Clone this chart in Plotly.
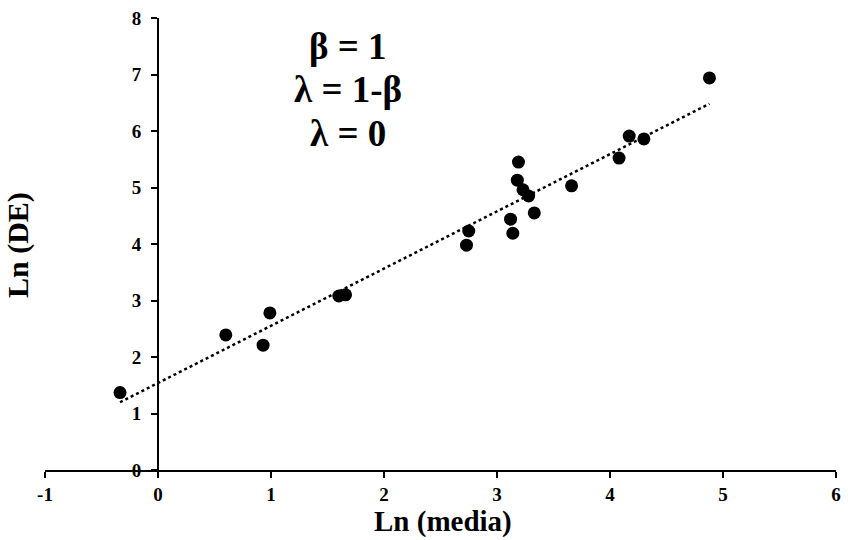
import numpy as np
import plotly.graph_objects as go

ln_media = [-0.336, 0.60, 0.93, 0.99, 1.60, 1.66, 2.73, 2.75, 3.12, 3.14,
            3.18, 3.19, 3.23, 3.28, 3.33, 3.66, 4.08, 4.17, 4.30, 4.88]
ln_de = [1.37, 2.39, 2.21, 2.78, 3.08, 3.10, 3.98, 4.23, 4.44, 4.19,
         5.13, 5.45, 4.96, 4.85, 4.55, 5.03, 5.52, 5.91, 5.86, 6.94]
x_ticks = [-1, 0, 1, 2, 3, 4, 5, 6]
x_tick_labels = ["-1", "0", "1", "2", "3", "4", "5", "6"]
y_ticks = [0, 1, 2, 3, 4, 5, 6, 7, 8]
y_tick_labels = ["0", "1", "2", "3", "4", "5", "6", "7", "8"]
note_lines = ["β = 1", "λ = 1-β", "λ = 0"]
note_y = [7.49, 6.73, 5.96]

FONT = "Liberation Serif"
W, H = 848, 540
L, R, T, B = 45, 12, 18, 70
PW, PH = W - L - R, H - T - B

slope, intercept = np.polyfit(ln_media, ln_de, 1)
tx = np.array([min(ln_media), max(ln_media)])
ty = slope * tx + intercept

fig = go.Figure()
fig.add_trace(go.Scatter(x=tx, y=ty, mode="lines",
                         line=dict(color="black", width=2.5, dash="dot"),
                         showlegend=False, hoverinfo="skip"))
fig.add_trace(go.Scatter(x=ln_media, y=ln_de, mode="markers",
                         marker=dict(color="black", size=13),
                         showlegend=False))

xr = [-1, 6]
tickfont = dict(family=FONT, size=19, color="black")
fig.update_layout(
    width=W, height=H,
    margin=dict(l=L, r=R, t=T, b=B, autoexpand=False),
    paper_bgcolor="white", plot_bgcolor="white",
    font=dict(family=FONT, color="black"),
    xaxis=dict(range=xr, tickvals=x_ticks,
               ticktext=[f"<b>{t}</b>" for t in x_tick_labels],
               showgrid=False, zeroline=False, automargin=False,
               showline=True, linecolor="black", linewidth=2,
               ticks="outside", ticklen=6, tickwidth=2, tickcolor="black",
               tickfont=tickfont, domain=[0, 1]),
    yaxis=dict(range=[0, 8], tickvals=y_ticks,
               ticktext=[f"<b>{t}</b>" for t in y_tick_labels],
               showgrid=False, zeroline=False, automargin=False,
               showline=True, linecolor="black", linewidth=2,
               ticks="outside", ticklen=6, tickwidth=2, tickcolor="black",
               ticklabelstandoff=6,
               tickfont=tickfont,
               anchor="free", position=(0 - xr[0]) / (xr[1] - xr[0])),
)

fig.add_annotation(text="<b>Ln (DE)</b>", xref="paper", yref="paper",
                   x=(18 - L) / PW, y=(H - B - 245) / PH, textangle=-90,
                   showarrow=False, xanchor="center", yanchor="middle",
                   font=dict(family=FONT, size=30, color="black"))

fig.add_annotation(text="<b>Ln (media)</b>", xref="paper", yref="paper",
                   x=(443 - L) / PW, y=-(521 - (H - B)) / PH,
                   showarrow=False, xanchor="center", yanchor="middle",
                   font=dict(family=FONT, size=29, color="black"))

for txt, yy in zip(note_lines, note_y):
    fig.add_annotation(text=f"<b>{txt}</b>", xref="x", yref="y",
                       x=1.68, y=yy, showarrow=False,
                       xanchor="center", yanchor="middle",
                       font=dict(family=FONT, size=37, color="black"))

fig.write_html("out.html")
